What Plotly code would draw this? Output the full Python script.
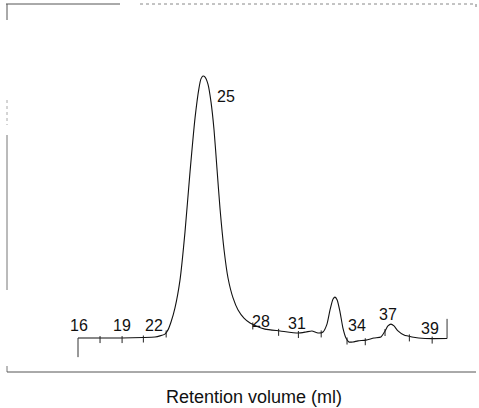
import numpy as np
import plotly.graph_objects as go

# ---- data ----
volume_ml = [16.00, 17.45, 18.89, 20.28, 21.07, 21.39, 21.72, 21.92, 22.12, 22.38,
             22.71, 23.04, 23.37, 23.70, 23.96, 24.09, 24.22, 24.36, 24.55, 24.75,
             24.95, 25.14, 25.34, 25.61, 25.87, 26.20, 26.53, 26.92, 27.32, 27.71,
             28.30, 29.29, 30.47, 31.00, 31.39, 31.79, 32.12, 32.38, 32.58, 32.78,
             32.91, 33.05, 33.24, 33.43, 33.63, 33.82, 34.09, 34.42, 34.95, 35.47,
             35.93, 36.20, 36.39, 36.59, 36.79, 37.05, 37.45, 37.97, 38.83, 40.28]
absorbance = [0.000, 0.000, 0.000, 0.002, 0.004, 0.008, 0.015, 0.031, 0.061, 0.115,
              0.221, 0.405, 0.634, 0.840, 0.954, 0.989, 1.000, 0.996, 0.969, 0.901,
              0.794, 0.649, 0.496, 0.336, 0.229, 0.153, 0.107, 0.076, 0.057, 0.046,
              0.034, 0.027, 0.019, 0.023, 0.027, 0.019, 0.023, 0.053, 0.107, 0.149,
              0.156, 0.145, 0.099, 0.038, 0.000, -0.015, -0.015, -0.011, -0.008, 0.000,
              0.004, 0.027, 0.046, 0.053, 0.046, 0.027, 0.011, 0.004, -0.002, -0.002]
fraction_marks = [17.45, 18.9, 20.3, 21.8, 27.5, 29.2, 30.5, 32.0, 33.7, 34.9,
                  36.2, 37.8, 39.3]
fraction_labels = ["16", "19", "22", "25", "28", "31", "34", "37", "39"]
label_px = [(79, 325), (122, 325), (154, 325), (226, 96), (261, 321),
            (297, 323), (357, 325), (388, 314), (430, 328)]
x_title = "Retention volume (ml)"

W, H = 479, 408
PX_PER_ML = 15.2
X0_PX = 78
BASE_PX = 338
PX_PER_A = 262


def px2paper(px, py):
    return px / W, 1 - py / H


xr = [16 - X0_PX / PX_PER_ML, 16 + (W - X0_PX) / PX_PER_ML]
yr = [-(H - BASE_PX) / PX_PER_A, BASE_PX / PX_PER_A]

fig = go.Figure()
fig.add_trace(go.Scatter(x=volume_ml, y=absorbance, mode="lines",
                         line=dict(color="#111111", width=1.1, shape="spline", smoothing=0.6),
                         hoverinfo="skip", showlegend=False))
mark_y = np.interp(fraction_marks, volume_ml, absorbance) - 0.006
fig.add_trace(go.Scatter(x=fraction_marks, y=mark_y, mode="markers",
                         marker=dict(symbol="line-ns", size=5,
                                     line=dict(color="#222222", width=1)),
                         hoverinfo="skip", showlegend=False))
# end stubs of the trace
fig.add_trace(go.Scatter(x=[volume_ml[0], volume_ml[0]], y=[absorbance[0], -0.073],
                         mode="lines", line=dict(color="#333333", width=1),
                         hoverinfo="skip", showlegend=False))
fig.add_trace(go.Scatter(x=[volume_ml[-1], volume_ml[-1]], y=[absorbance[-1], 0.073],
                         mode="lines", line=dict(color="#333333", width=1),
                         hoverinfo="skip", showlegend=False))

# broken scanned frame
frame_segments = [
    ((6, 4), (120, 4), "#555555", "solid"),
    ((140, 4), (476, 4), "#888888", "dot"),
    ((7, 4), (7, 20), "#555555", "solid"),
    ((7, 100), (7, 125), "#aaaaaa", "dot"),
    ((7, 135), (7, 290), "#777777", "solid"),
    ((7, 366), (7, 372), "#777777", "solid"),
    ((7, 372), (476, 372), "#555555", "solid"),
    ((476, 4), (476, 7), "#777777", "solid"),
]
shapes = []
for (ax_, ay_), (bx_, by_), col, dash in frame_segments:
    x0, y0 = px2paper(ax_, ay_)
    x1, y1 = px2paper(bx_, by_)
    shapes.append(dict(type="line", xref="paper", yref="paper", x0=x0, y0=y0,
                       x1=x1, y1=y1, line=dict(color=col, width=1, dash=dash)))

annotations = []
for lab, (lx, ly) in zip(fraction_labels, label_px):
    px_, py_ = px2paper(lx, ly)
    annotations.append(dict(text=lab, x=px_, y=py_, xref="paper", yref="paper",
                            showarrow=False, xanchor="center", yanchor="middle",
                            font=dict(family="Liberation Sans, Arial, sans-serif",
                                      size=16, color="#111111")))
tx, ty = px2paper(254, 397)
annotations.append(dict(text=x_title, x=tx, y=ty, xref="paper", yref="paper",
                        showarrow=False, xanchor="center", yanchor="middle",
                        font=dict(family="Liberation Sans, Arial, sans-serif",
                                  size=18, color="#111111")))

fig.update_layout(width=W, height=H, autosize=False,
                  margin=dict(l=0, r=0, t=0, b=0),
                  paper_bgcolor="white", plot_bgcolor="white",
                  xaxis=dict(range=xr, visible=False, fixedrange=True),
                  yaxis=dict(range=yr, visible=False, fixedrange=True),
                  shapes=shapes, annotations=annotations)
fig.write_html("out.html", config={"displayModeBar": False},
               post_script="document.body.style.margin='0';"
                           "document.body.style.overflow='hidden';")
